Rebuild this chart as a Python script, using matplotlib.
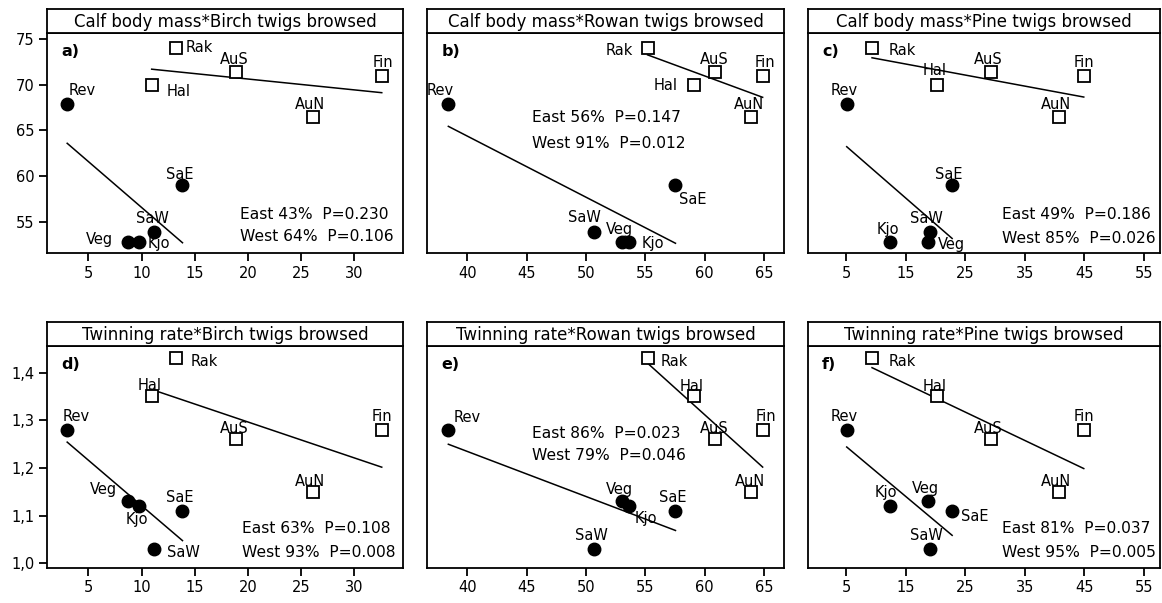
import matplotlib
matplotlib.use("Agg")
import matplotlib.pyplot as plt
import numpy as np
from matplotlib.ticker import FuncFormatter

plt.rcParams['font.family'] = ['DejaVu Sans']

# sites: first five = circles (West), last five = squares (East)
sites = ['Rev', 'Veg', 'Kjo', 'SaW', 'SaE', 'Rak', 'Hal', 'AuS', 'AuN', 'Fin']
birch = [3.0, 8.7, 9.8, 11.2, 13.85, 13.2, 10.95, 18.85, 26.1, 32.6]
rowan = [38.4, 53.05, 53.6, 50.65, 57.55, 55.2, 59.1, 60.9, 63.9, 64.9]
pine = [5.1, 18.7, 12.4, 19.0, 22.8, 9.35, 20.2, 29.3, 40.8, 44.9]
calf_mass = [67.85, 52.8, 52.8, 53.9, 59.0, 74.0, 70.0, 71.4, 66.5, 71.0]
twinning = [1.28, 1.13, 1.12, 1.03, 1.11, 1.43, 1.35, 1.26, 1.15, 1.28]

titles = ['Calf body mass*Birch twigs browsed', 'Calf body mass*Rowan twigs browsed',
          'Calf body mass*Pine twigs browsed', 'Twinning rate*Birch twigs browsed',
          'Twinning rate*Rowan twigs browsed', 'Twinning rate*Pine twigs browsed']
letters = ['a)', 'b)', 'c)', 'd)', 'e)', 'f)']
east_txt = ['East 43%  P=0.230', 'East 56%  P=0.147', 'East 49%  P=0.186',
            'East 63%  P=0.108', 'East 86%  P=0.023', 'East 81%  P=0.037']
west_txt = ['West 64%  P=0.106', 'West 91%  P=0.012', 'West 85%  P=0.026',
            'West 93%  P=0.008', 'West 79%  P=0.046', 'West 95%  P=0.005']
x_ticks_birch = [5, 10, 15, 20, 25, 30]
x_ticks_rowan = [40, 45, 50, 55, 60, 65]
x_ticks_pine = [5, 15, 25, 35, 45, 55]
y_ticks_mass = [55, 60, 65, 70, 75]
y_ticks_twin = [1.0, 1.1, 1.2, 1.3, 1.4]

# label offsets in pixels (dx, dy) per panel, order as sites
offsets = [
    [(15, 14), (-28, 3), (19, -1), (-2, 13), (-3, 11), (24, 1), (27, -7), (-1, 12), (-3, 12), (1, 13)],
    [(-8, 14), (-3, 13), (24, -1), (-9, 14), (17, -14), (-28, -2), (-28, -1), (-1, 12), (-2, 12), (2, 13)],
    [(-3, 14), (24, -2), (-2, 13), (-3, 13), (-3, 11), (30, -2), (-2, 14), (-3, 12), (-3, 12), (0, 13)],
    [(9, 13), (-24, 12), (-3, -13), (29, -4), (-3, 13), (29, -3), (-2, 11), (-1, 11), (-3, 10), (0, 13)],
    [(19, 12), (-3, 12), (17, -12), (-2, 13), (-3, 13), (27, -3), (-2, 10), (-1, 11), (-1, 10), (3, 13)],
    [(-3, 13), (-2, 13), (-4, 14), (-3, 13), (23, -6), (30, -3), (-2, 10), (-3, 11), (-3, 10), (0, 13)],
]
stat_pos = [(0.542, 0.177, 0.073), (0.294, 0.614, 0.500), (0.550, 0.173, 0.064),
            (0.548, 0.176, 0.068), (0.294, 0.608, 0.505), (0.550, 0.180, 0.072)]

W, H = 1162, 603
fig = plt.figure(figsize=(W / 100, H / 100), dpi=100, facecolor='white')

cols = [(47, 403), (427, 784), (808, 1160)]
rows = [(9, 33, 253), (322, 346, 568)]
xlims = [(1.1, 34.6), (36.6, 66.7), (-1.4, 57.7)]
ylims = [(51.6, 75.65), (0.990, 1.456)]
xdata = [birch, rowan, pine]
ydata = [calf_mass, twinning]
xticks = [x_ticks_birch, x_ticks_rowan, x_ticks_pine]
yticks = [y_ticks_mass, y_ticks_twin]

lw = 1.3
for r in range(2):
    top, head, bot = rows[r]
    for c in range(3):
        k = r * 3 + c
        x0, x1 = cols[c]
        ax = fig.add_axes([x0 / W, 1 - bot / H, (x1 - x0) / W, (bot - head) / H])
        tax = fig.add_axes([x0 / W, 1 - head / H, (x1 - x0) / W, (head - top) / H])
        tax.set_xticks([])
        tax.set_yticks([])
        for s in tax.spines.values():
            s.set_linewidth(lw)
        tax.text(0.5, 0.45, titles[k], ha='center', va='center', fontsize=12, transform=tax.transAxes)

        x = np.array(xdata[c])
        y = np.array(ydata[r])
        # regression lines
        for g in (slice(0, 5), slice(5, 10)):
            b, a = np.polyfit(x[g], y[g], 1)
            xx = np.array([x[g].min(), x[g].max()])
            ax.plot(xx, a + b * xx, color='black', lw=1.1, zorder=2)
        ax.plot(x[:5], y[:5], 'o', ms=9, color='black', zorder=3)
        ax.plot(x[5:], y[5:], 's', ms=8, mfc='white', mec='black', mew=1.3, zorder=3)
        for i, name in enumerate(sites):
            dx, dy = offsets[k][i]
            ax.annotate(name, (x[i], y[i]), xytext=(dx, dy), textcoords='offset pixels',
                        ha='center', va='center', fontsize=10.5, zorder=4)

        ax.set_xlim(*xlims[c])
        ax.set_ylim(*ylims[r])
        ax.set_xticks(xticks[c])
        if c == 0:
            ax.set_yticks(yticks[r])
            if r == 1:
                ax.yaxis.set_major_formatter(FuncFormatter(lambda v, p: f"{v:.1f}".replace('.', ',')))
        else:
            ax.set_yticks([])
        ax.tick_params(direction='out', length=6, width=1.3, labelsize=10.5, pad=3)
        for s in ax.spines.values():
            s.set_linewidth(lw)

        ax.text(0.04, 0.95, letters[k], transform=ax.transAxes, fontsize=11.5,
                fontweight='bold', ha='left', va='top')
        sx, ey, wy = stat_pos[k]
        ax.text(sx, ey, east_txt[k], transform=ax.transAxes, fontsize=11.2, ha='left', va='center')
        ax.text(sx, wy, west_txt[k], transform=ax.transAxes, fontsize=11.2, ha='left', va='center')

fig.savefig('out.png', dpi=100)
